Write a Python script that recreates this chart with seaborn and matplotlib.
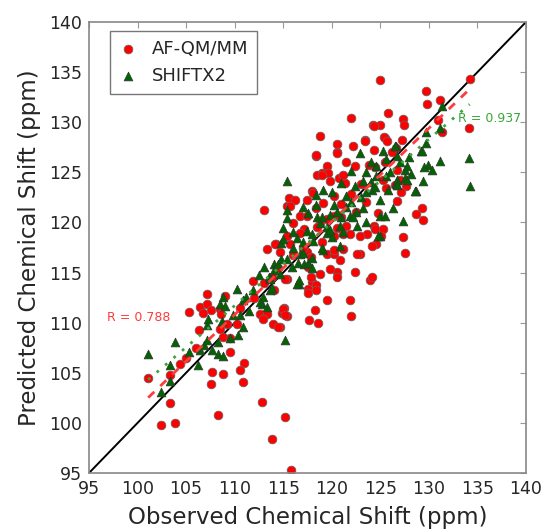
import numpy as np
import pandas as pd
import matplotlib
matplotlib.use("Agg")
import matplotlib.pyplot as plt
import seaborn as sns

# ---------------- data ----------------
afqm_x = [134.2, 125.0, 122.0, 125.8, 124.2, 125.0, 118.8, 125.5, 123.4, 129.7, 131.1, 129.8, 127.3, 127.4,
          130.9, 134.1, 131.4, 125.4, 125.7, 127.2, 126.6, 127.6, 127.1, 125.3, 129.3, 128.7, 129.4, 127.3,
          127.5, 118.0, 118.4, 117.6, 117.6, 118.4, 119.5, 121.9, 122.0, 118.3, 117.7, 118.6, 115.1, 114.9,
          115.4, 114.7, 115.2, 115.8, 123.9, 113.8, 101.1, 103.3, 103.3, 102.4, 103.9, 104.4, 105.3, 106.4,
          107.1, 107.2, 107.6, 106.7, 108.5, 109.0, 108.6, 109.2, 110.2, 106.3, 108.5, 108.8, 109.5, 107.7,
          108.8, 107.6, 111.0, 110.5, 110.9, 108.3, 111.9, 112.8, 112.6, 113.3, 112.9, 113.9, 114.5, 115.0,
          115.4, 124.3, 120.5, 122.2, 123.4, 120.5, 118.4, 124.3, 121.5, 122.4, 123.8, 119.5, 119.0, 119.6,
          118.5, 120.7, 121.4, 125.6, 126.5, 118.0, 115.6, 116.2, 115.4, 117.4, 118.4, 113.0, 116.7, 116.0,
          117.1, 120.5, 121.2, 121.9, 120.2, 124.3, 125.3, 123.6, 122.9, 115.4, 115.7, 114.3, 113.3, 117.4,
          117.9, 117.6, 118.8, 117.9, 120.5, 120.5, 119.5, 120.2, 122.4, 124.1, 122.9, 124.6, 114.0, 113.8,
          118.4, 120.5, 119.0, 119.8, 121.2, 118.1, 119.1, 120.2, 117.4, 118.8, 120.2, 121.5, 120.2, 121.2,
          122.6, 124.1, 124.5, 125.1, 124.8, 126.7, 127.0, 126.7, 120.8, 119.8, 115.7, 114.2, 114.7, 115.2,
          115.2, 116.7, 117.0, 118.5, 119.5, 121.0, 122.0, 123.0, 116.0, 123.5, 122.5, 121.0, 119.0, 125.5,
          126.2, 124.5, 114.5, 113.0, 112.0, 110.5, 109.5, 106.0, 105.0]
afqm_y = [134.3, 134.2, 130.4, 130.9, 129.7, 129.7, 128.6, 128.4, 128.2, 133.1, 132.2, 131.8, 130.3, 129.7,
          130.2, 129.4, 129.0, 128.5, 128.1, 128.2, 127.4, 123.6, 123.0, 124.2, 121.4, 120.8, 120.2, 118.5,
          117.0, 114.1, 113.8, 113.4, 113.0, 113.3, 112.3, 112.3, 110.7, 111.3, 110.3, 110.0, 111.5, 111.0,
          110.7, 109.6, 100.6, 95.3, 114.3, 98.4, 104.5, 104.8, 102.0, 99.8, 100.0, 105.9, 111.1, 111.6,
          112.9, 111.9, 111.3, 111.0, 111.4, 112.7, 110.9, 109.9, 109.9, 109.3, 109.4, 108.6, 107.1, 105.1,
          104.9, 103.9, 106.0, 105.3, 104.1, 100.8, 114.2, 102.1, 110.9, 110.9, 110.4, 109.9, 109.6, 111.4,
          114.4, 129.6, 127.8, 127.6, 128.1, 127.0, 126.6, 127.2, 126.0, 125.6, 125.7, 125.6, 124.9, 124.9,
          124.7, 124.4, 123.9, 123.4, 123.7, 123.1, 122.4, 122.2, 121.6, 122.2, 121.4, 121.2, 120.6, 119.9,
          119.3, 119.4, 118.8, 118.8, 118.6, 119.6, 119.3, 118.8, 118.6, 118.6, 117.8, 117.8, 117.4, 117.1,
          116.6, 115.6, 114.9, 114.6, 115.1, 114.6, 116.9, 116.9, 115.1, 114.6, 116.9, 117.8, 113.3, 114.6,
          126.7, 126.9, 124.7, 124.1, 124.7, 122.9, 121.9, 122.6, 120.6, 119.9, 120.6, 119.6, 117.3, 117.4,
          116.9, 117.6, 119.3, 118.6, 120.9, 122.1, 124.2, 125.2, 116.3, 115.4, 121.6, 117.8, 117.1, 114.4,
          110.8, 118.9, 117.5, 119.5, 120.3, 121.8, 122.8, 123.8, 116.8, 122.0, 121.0, 120.5, 118.0, 126.0,
          127.0, 125.5, 115.5, 114.0, 112.5, 111.5, 108.5, 107.5, 106.5]

shiftx_x = [131.3, 129.7, 131.1, 129.7, 129.2, 131.1, 134.1, 129.9, 130.3, 129.4, 134.2, 128.7, 126.6, 127.5,
            127.5, 126.6, 127.3, 115.2, 116.6, 101.1, 102.4, 103.3, 103.3, 103.9, 105.3, 106.2, 106.4, 106.8,
            107.1, 107.2, 107.7, 108.3, 108.3, 108.8, 109.5, 110.2, 110.9, 110.9, 108.5, 109.0, 108.7, 111.9,
            112.8, 112.9, 113.6, 107.3, 122.9, 125.3, 126.5, 115.4, 122.0, 123.2, 124.6, 125.6, 127.7, 129.3,
            127.7, 126.7, 128.6, 119.1, 121.5, 124.1, 125.0, 126.3, 123.2, 118.4, 117.6, 119.8, 121.9, 118.8,
            120.8, 122.6, 115.0, 115.4, 117.4, 119.5, 116.4, 118.1, 114.8, 120.8, 119.1, 116.7, 115.4, 114.0,
            113.0, 115.9, 117.1, 114.7, 113.5, 116.4, 111.2, 115.4, 118.4, 125.0, 125.0, 120.2, 122.4, 121.0,
            125.6, 124.6, 126.7, 112.6, 113.3, 108.8, 113.6, 114.0, 114.5, 114.8, 115.0, 116.6, 124.8, 125.5,
            125.8, 126.7, 117.0, 117.5, 118.0, 119.0, 116.5, 118.0, 119.5, 120.0, 121.0, 121.5, 122.0, 122.5,
            123.0, 123.5, 124.0, 124.5, 120.5, 119.0, 118.5, 117.0, 116.0, 118.0, 119.8, 121.2, 122.2, 123.5,
            120.0, 117.0, 116.0, 113.8, 112.5, 111.5, 110.5, 127.0, 128.0, 126.0, 124.0, 123.5, 128.2, 129.5,
            110.3, 109.8]
shiftx_y = [131.6, 129.0, 129.4, 127.9, 127.1, 126.1, 126.4, 125.7, 125.2, 124.1, 123.6, 123.1, 127.6, 125.2,
            124.4, 123.9, 120.1, 108.3, 113.9, 106.9, 103.1, 105.8, 104.2, 108.1, 107.1, 105.8, 107.3, 107.8,
            108.3, 109.8, 107.3, 106.9, 108.1, 106.7, 108.5, 113.4, 112.3, 109.6, 111.9, 111.7, 110.2, 113.3,
            111.9, 112.6, 113.3, 110.4, 126.9, 127.1, 127.6, 124.1, 125.1, 124.1, 124.6, 124.6, 125.6, 127.1,
            124.2, 124.2, 123.1, 123.2, 122.6, 123.2, 122.2, 121.4, 121.4, 121.7, 120.9, 120.7, 120.6, 119.9,
            119.6, 119.6, 119.4, 120.4, 119.1, 118.9, 118.4, 118.1, 117.9, 117.6, 117.3, 116.9, 116.4, 115.9,
            115.6, 115.6, 115.9, 114.9, 114.6, 113.9, 112.6, 121.2, 122.7, 120.6, 118.6, 121.7, 123.6, 123.9,
            126.3, 125.6, 126.6, 112.1, 111.6, 112.6, 114.4, 115.3, 115.9, 116.4, 118.3, 114.3, 118.6, 120.6,
            123.2, 123.7, 117.0, 116.0, 116.5, 117.5, 116.0, 115.5, 119.5, 118.5, 120.5, 121.5, 122.0, 121.0,
            122.5, 123.0, 124.0, 123.5, 121.0, 120.5, 120.5, 118.0, 117.5, 118.8, 119.2, 119.0, 120.5, 120.0,
            123.0, 121.5, 119.0, 113.5, 114.8, 111.2, 110.8, 126.0, 126.5, 125.0, 126.0, 125.0, 124.8, 125.5,
            108.8, 110.8]

series_names = ["AF-QM/MM", "SHIFTX2"]
fit_slope = [0.93, 0.83]
fit_intercept = [8.5, 20.4]
fit_range = [(101.1, 134.2), (101.1, 134.2)]
r_labels = ["R = 0.788", "R = 0.937"]
r_label_pos = [(96.9, 110.5), (133.0, 130.4)]

x_ticks = [95, 100, 105, 110, 115, 120, 125, 130, 135, 140]
y_ticks = [95, 100, 105, 110, 115, 120, 125, 130, 135, 140]

# ---------------- figure ----------------
sns.set_style("white")
plt.rcParams["font.family"] = ["DejaVu Sans"]

fig = plt.figure(figsize=(5.44, 5.31), dpi=100)
ax = fig.add_axes([89 / 544, 58 / 531, 437 / 544, 451 / 531])

df_a = pd.DataFrame({"obs": afqm_x, "pred": afqm_y})
df_s = pd.DataFrame({"obs": shiftx_x, "pred": shiftx_y})

# diagonal
ax.plot([95, 140], [95, 140], color="black", lw=1.4, zorder=1)

sns.scatterplot(data=df_a, x="obs", y="pred", ax=ax, marker="o", s=40,
                color="#ff0000", edgecolor="#666666", linewidth=0.5,
                label=series_names[0], zorder=2)
sns.scatterplot(data=df_s, x="obs", y="pred", ax=ax, marker="^", s=40,
                color="#006400", edgecolor="#333333", linewidth=0.5,
                label=series_names[1], zorder=3)

# regression lines
line_colors = ["#ff3b3b", "#3aa53a"]
line_styles = [(0, (3, 3)), (0, (1, 3))]
for i in range(2):
    xs = np.array(fit_range[i])
    ax.plot(xs, fit_slope[i] * xs + fit_intercept[i], color=line_colors[i],
            linestyle=line_styles[i], lw=2.0, zorder=4)
    ax.text(r_label_pos[i][0], r_label_pos[i][1], r_labels[i], color=line_colors[i],
            fontsize=9, ha="left", va="center", zorder=5)

ax.set_xlim(95, 140)
ax.set_ylim(95, 140)
ax.set_xticks(x_ticks)
ax.set_yticks(y_ticks)
ax.tick_params(direction="in", length=4, width=0.8, color="#999999",
               top=True, right=True, labelsize=12.5, pad=5)
for sp in ax.spines.values():
    sp.set_color("#888888")
    sp.set_linewidth(1.2)

ax.set_xlabel("Observed Chemical Shift (ppm)", fontsize=16.5, labelpad=6)
ax.set_ylabel("Predicted Chemical Shift (ppm)", fontsize=16.5, labelpad=6)

leg = ax.legend(loc="upper left", bbox_to_anchor=(0.048, 0.98), borderaxespad=0,
                fontsize=13, frameon=True, fancybox=False, handlelength=1.0,
                handletextpad=0.8, borderpad=0.5, labelspacing=0.5)
leg.get_frame().set_edgecolor("#555555")
leg.get_frame().set_linewidth(1.0)

fig.savefig("out.png", dpi=100)
